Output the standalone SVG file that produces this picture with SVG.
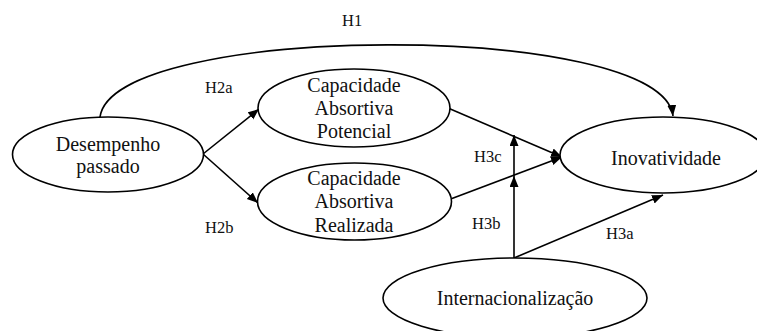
<svg xmlns="http://www.w3.org/2000/svg" width="757" height="331" viewBox="0 0 757 331">
<style>
.node ellipse{fill:#fff;stroke:#000;stroke-width:1.6}
.t{font-family:'Liberation Serif','Times New Roman','DejaVu Serif',serif;font-size:20px;fill:#111;text-anchor:middle}
.h{font-family:'Liberation Serif','Times New Roman','DejaVu Serif',serif;font-size:16.5px;fill:#111}
.c{fill:none;stroke:#000;stroke-width:1.6}
</style>
<defs>
<marker id="ar" markerUnits="userSpaceOnUse" markerWidth="12" markerHeight="10" refX="11" refY="4.5" orient="auto">
<path d="M0,0 L11,4.5 L0,9 z" fill="#000"/>
</marker>
</defs>
<rect width="757" height="331" fill="#fff"/>
<g id="connectors">
<path class="c" d="M100,117 C113,22 662,20 673,116" marker-end="url(#ar)"/>
<line class="c" x1="203" y1="154" x2="259" y2="109" marker-end="url(#ar)"/>
<line class="c" x1="203" y1="154" x2="258" y2="203" marker-end="url(#ar)"/>
<line class="c" x1="448" y1="108" x2="562" y2="157" marker-end="url(#ar)"/>
<line class="c" x1="448" y1="200" x2="562" y2="157" marker-end="url(#ar)"/>
<line class="c" x1="514" y1="258" x2="514" y2="176" marker-end="url(#ar)"/>
<line class="c" x1="514" y1="176" x2="514" y2="135" marker-end="url(#ar)"/>
<line class="c" x1="514" y1="258" x2="663" y2="195" marker-end="url(#ar)"/>
</g>
<g id="labels">
<text class="h" x="342" y="26" font-family="Liberation Serif">H1</text>
<text class="h" x="205" y="93" font-family="Liberation Serif">H2a</text>
<text class="h" x="205" y="233" font-family="Liberation Serif">H2b</text>
<text class="h" x="474" y="162" font-family="Liberation Serif">H3c</text>
<text class="h" x="472" y="229" font-family="Liberation Serif">H3b</text>
<text class="h" x="606" y="239" font-family="Liberation Serif">H3a</text>
</g>
<g id="desempenho" class="node">
<ellipse cx="108" cy="154.5" rx="95.5" ry="37.5"/>
<text class="t" x="108" y="150.5">Desempenho</text>
<text class="t" x="108" y="173">passado</text>
</g>
<g id="potencial" class="node">
<ellipse cx="354" cy="108" rx="96" ry="39"/>
<text class="t" x="354" y="92">Capacidade</text>
<text class="t" x="354" y="115">Absortiva</text>
<text class="t" x="354" y="138">Potencial</text>
</g>
<g id="realizada" class="node">
<ellipse cx="354.5" cy="201.5" rx="97" ry="38.5"/>
<text class="t" x="354" y="184.5">Capacidade</text>
<text class="t" x="354" y="208">Absortiva</text>
<text class="t" x="354" y="232">Realizada</text>
</g>
<g id="inovatividade" class="node">
<ellipse cx="663" cy="155" rx="103" ry="38"/>
<text class="t" x="666" y="165">Inovatividade</text>
</g>
<g id="internacionalizacao" class="node">
<ellipse cx="515" cy="298" rx="132" ry="40"/>
<text class="t" x="515" y="305">Internacionalização</text>
</g>
</svg>
